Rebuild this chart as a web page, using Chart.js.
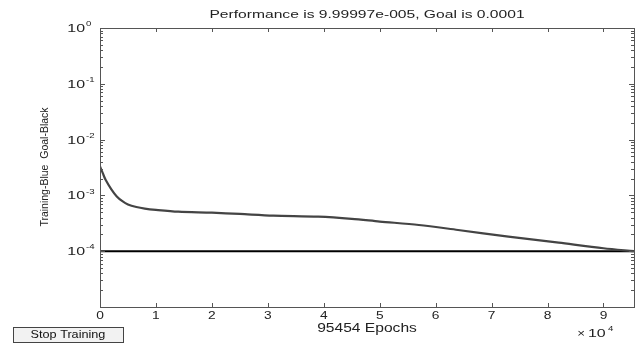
<!DOCTYPE html>
<html>
<head>
<meta charset="utf-8">
<script src="https://cdn.jsdelivr.net/npm/chart.js@4"></script>
<style>
  html, body { margin: 0; padding: 0; background: #fff; }
  #wrap { position: relative; width: 643px; height: 343px; }
</style>
</head>
<body>
<div id="wrap"><canvas id="perfChart"></canvas></div>
<script>
// training record
const epochs = [0, 500, 1000, 2000, 3000, 4000, 5000, 6500, 8000, 10000, 14000, 20000, 25000, 31000, 39000, 45000, 50000, 57000, 64000, 73000, 82000, 90000, 95454];
const performance = [3.3e-3, 2.5e-3, 1.9e-3, 1.3e-3, 9.6e-4, 7.9e-4, 6.9e-4, 6.2e-4, 5.8e-4, 5.5e-4, 5.1e-4, 4.9e-4, 4.65e-4, 4.35e-4, 4.15e-4, 3.8e-4, 3.4e-4, 2.95e-4, 2.4e-4, 1.83e-4, 1.42e-4, 1.13e-4, 9.99997e-5];
const goal = 1e-4;
const totalEpochs = 95454;

const xTicks = [0, 1, 2, 3, 4, 5, 6, 7, 8, 9];   // x 10^4
const yTickExps = [0, -1, -2, -3, -4];
const titleText = 'Performance is 9.99997e-005, Goal is 0.0001';

const FONT = '"Liberation Sans", Arial, sans-serif';

function stretchText(ctx, text, x, y, size, sx, align) {
    ctx.save();
    ctx.font = size + 'px ' + FONT;
    ctx.textAlign = align || 'center';
    ctx.textBaseline = 'middle';
    ctx.translate(x, y);
    ctx.scale(sx, 1);
    ctx.fillText(text, 0, 0);
    ctx.restore();
}

const matlabAxes = {
    id: 'matlabAxes',
    afterDraw(chart) {
        const ctx = chart.ctx;
        const a = chart.chartArea;
        const xs = chart.scales.x, ys = chart.scales.y;
        ctx.save();
        ctx.strokeStyle = '#555';
        ctx.fillStyle = '#222';
        ctx.lineWidth = 1;
        ctx.strokeRect(a.left + 0.5, a.top + 0.5, a.right - a.left, a.bottom - a.top);

        // x ticks, inward on bottom and top
        ctx.beginPath();
        xTicks.forEach(t => {
            const px = Math.round(xs.getPixelForValue(t * 1e4)) + 0.5;
            ctx.moveTo(px, a.bottom); ctx.lineTo(px, a.bottom - 4);
            ctx.moveTo(px, a.top); ctx.lineTo(px, a.top + 4);
        });
        // y major and minor ticks, inward on left and right
        for (let e = -5; e <= 0; e++) {
            for (let m = 1; m <= 9; m++) {
                const v = m * Math.pow(10, e);
                if (v > 1) continue;
                const py = Math.round(ys.getPixelForValue(v)) + 0.5;
                const len = m === 1 ? 5 : 3;
                ctx.moveTo(a.left, py); ctx.lineTo(a.left + len, py);
                ctx.moveTo(a.right, py); ctx.lineTo(a.right - len, py);
            }
        }
        ctx.stroke();

        // x tick labels
        xTicks.forEach(t => {
            stretchText(ctx, String(t), xs.getPixelForValue(t * 1e4), a.bottom + 9, 11, 1.25);
        });
        // y tick labels 10^n
        yTickExps.forEach(e => {
            const py = ys.getPixelForValue(Math.pow(10, e));
            stretchText(ctx, '10', a.left - 15, py + 1, 11, 1.45, 'right');
            stretchText(ctx, e === 0 ? '0' : '-' + (-e), a.left - 14, py - 4, 8, 1.2, 'left');
        });

        // title and axis labels
        stretchText(ctx, titleText, (a.left + a.right) / 2, 15, 11, 1.42);
        stretchText(ctx, '95454 Epochs', (a.left + a.right) / 2, 329, 12, 1.3);
        stretchText(ctx, '\u00d7', 581, 334, 11, 1.2);
        stretchText(ctx, '10', 588, 334, 11, 1.45, 'left');
        stretchText(ctx, '4', 608, 329, 8, 1.2, 'left');

        ctx.save();
        ctx.translate(45, 167);
        ctx.rotate(-Math.PI / 2);
        stretchText(ctx, 'Training-Blue  Goal-Black', 0, 0, 10.5, 1.0);
        ctx.restore();

        // Stop Training button
        ctx.fillStyle = '#f2f2f2';
        ctx.fillRect(13, 327, 110, 15);
        ctx.strokeStyle = '#444';
        ctx.strokeRect(13.5, 327.5, 110, 15);
        ctx.fillStyle = '#111';
        stretchText(ctx, 'Stop Training', 68, 335, 11, 1.15);
        ctx.restore();
    }
};

const ctx = document.getElementById('perfChart').getContext('2d');
const perfChart = new Chart(ctx, {
    type: 'line',
    data: {
        datasets: [{
            label: 'Training',
            data: epochs.map((e, i) => ({ x: e, y: performance[i] })),
            borderColor: '#444',
            borderWidth: 2.2,
            pointRadius: 0,
            tension: 0.3,
            fill: false
        }, {
            label: 'Goal',
            data: [{ x: 0, y: goal }, { x: totalEpochs, y: goal }],
            borderColor: '#000',
            borderWidth: 2,
            pointRadius: 0,
            fill: false
        }]
    },
    options: {
        responsive: true,
        maintainAspectRatio: false,
        animation: false,
        layout: { padding: { left: 100, top: 28, right: 9, bottom: 36 } },
        plugins: { legend: { display: false }, tooltip: { enabled: false } },
        scales: {
            x: { type: 'linear', display: false, min: 0, max: totalEpochs },
            y: { type: 'logarithmic', display: false, min: 1e-5, max: 1 }
        }
    },
    plugins: [matlabAxes]
});
</script>
</body>
</html>
